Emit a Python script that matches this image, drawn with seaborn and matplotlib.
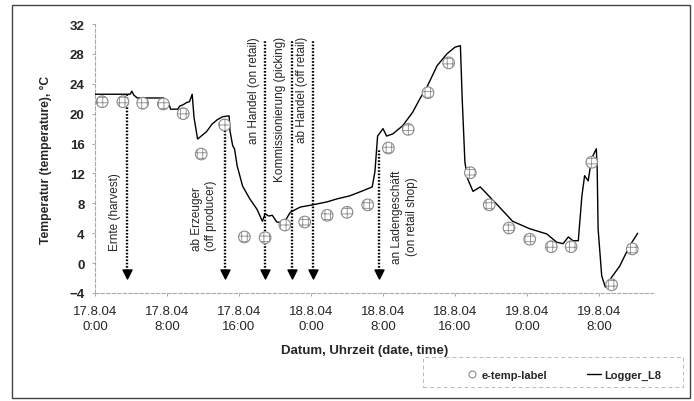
import numpy as np
import pandas as pd
import matplotlib
matplotlib.use('Agg')
import matplotlib.pyplot as plt
import seaborn as sns
from matplotlib.patches import Rectangle
from matplotlib.lines import Line2D

# hours after 17.8.04 0:00, temperature in degC
logger_h = [0.0, 3.9, 4.1, 4.3, 4.7, 7.6, 7.8, 8.2, 8.4, 9.2, 9.4, 9.8, 10.2, 10.5, 10.8,
            11.0, 11.4, 11.8, 12.4, 13.0, 13.6, 14.2, 14.9, 15.0, 15.3, 15.5, 15.8, 16.4,
            17.2, 18.0, 18.6, 18.9, 19.3, 19.7, 20.2, 20.9, 21.3, 21.7, 22.8, 24.2, 25.8,
            26.9, 28.3, 29.8, 30.8, 31.1, 31.4, 32.0, 32.4, 33.1, 34.2, 35.3, 36.1, 36.9,
            38.0, 39.1, 40.0, 40.6, 40.8, 41.1, 41.4, 42.0, 42.8, 44.7, 46.4, 48.3, 50.2,
            51.3, 52.0, 52.6, 53.1, 53.7, 54.1, 54.4, 54.8, 55.0, 55.3, 55.7, 55.8, 55.9,
            56.3, 56.7, 57.4, 58.3, 59.4, 60.3]
logger_t = [22.6, 22.6, 23.0, 22.5, 22.1, 22.1, 21.4, 21.4, 20.6, 20.6, 21.0, 21.2, 21.5, 21.6, 22.6,
            19.5, 16.6, 17.0, 17.6, 18.6, 19.2, 19.6, 19.7, 17.7, 15.7, 15.3, 13.0, 10.3,
            8.6, 7.2, 5.6, 6.6, 6.3, 6.4, 5.5, 5.4, 6.0, 6.8, 7.5, 7.8, 8.2,
            8.6, 9.0, 9.7, 10.2, 12.2, 17.0, 18.0, 17.0, 17.3, 18.4, 20.2, 22.0, 23.6,
            26.4, 28.0, 28.9, 29.1, 22.0, 13.5, 11.3, 9.6, 10.2, 7.8, 5.6, 4.6, 3.9,
            2.8, 2.6, 3.5, 3.0, 3.0, 9.0, 11.7, 11.0, 12.6, 14.3, 15.3, 12.6, 4.6,
            -1.7, -3.2, -1.9, -0.4, 2.3, 4.0]

label_h = [0.8, 3.1, 5.3, 7.6, 9.8, 11.8, 14.4, 16.6, 18.9, 21.1, 23.3, 25.8, 28.0, 30.3,
           32.6, 34.8, 37.0, 39.3, 41.7, 43.8, 46.0, 48.3, 50.7, 52.9, 55.2, 57.4, 59.7]
label_t = [21.6, 21.6, 21.4, 21.3, 20.0, 14.6, 18.5, 3.5, 3.4, 5.1, 5.5, 6.4, 6.8, 7.8,
           15.4, 17.9, 22.8, 26.8, 12.1, 7.8, 4.7, 3.2, 2.2, 2.2, 13.5, -2.9, 1.9]

event_names = ['Ernte (harvest)', 'ab Erzeuger\n(off producer)', 'an Handel (on retail)',
               'Kommissionierung (picking)', 'ab Handel (off retail)',
               'an Ladengeschäft\n(on retail shop)']
event_h = [3.6, 14.4, 18.9, 21.9, 24.2, 31.6]
event_top = [22.6, 18.4, 29.7, 29.7, 29.7, 15.3]

tick_h = [0, 8, 16, 24, 32, 40, 48, 56]
tick_labels = ['17.8.04\n0:00', '17.8.04\n8:00', '17.8.04\n16:00', '18.8.04\n0:00',
               '18.8.04\n8:00', '18.8.04\n16:00', '19.8.04\n0:00', '19.8.04\n8:00']

logger = pd.DataFrame({'h': logger_h, 't': logger_t})
labels = pd.DataFrame({'h': label_h, 't': label_t})

sns.set_style('white')
plt.rcParams['font.family'] = ['Liberation Sans', 'DejaVu Sans']
plt.rcParams['hatch.color'] = '#8a8a8a'
plt.rcParams['hatch.linewidth'] = 0.6

fig = plt.figure(figsize=(6.94, 4.02), dpi=100)
ax = fig.add_axes([95 / 694, 108 / 402, 558 / 694, 269 / 402])

# event arrows
ax.vlines(event_h, -1.1, event_top, colors='black', linestyles=(0, (0.7, 0.7)), lw=1.7, zorder=2)
ax.scatter(event_h, [-1.45] * len(event_h), marker='v', s=42, color='black', zorder=3)

sns.lineplot(data=logger, x='h', y='t', ax=ax, color='black', lw=1.0, sort=False,
             estimator=None, zorder=4)
sns.scatterplot(data=labels, x='h', y='t', ax=ax, s=70, facecolor='white',
                edgecolor='#8a8a8a', linewidth=0.8, hatch='+++', zorder=5)

# event texts
fs = 8.5
ax.text(2.2, 1.8, event_names[0], rotation=90, ha='center', va='bottom', fontsize=fs)
ax.text(12.1, 1.8, event_names[1], rotation=90, ha='center', va='bottom', fontsize=fs,
        multialignment='left', linespacing=1.3)
ax.text(17.7, 30.4, event_names[2], rotation=90, ha='center', va='top', fontsize=fs)
ax.text(20.6, 30.4, event_names[3], rotation=90, ha='center', va='top', fontsize=fs)
ax.text(23.0, 30.4, event_names[4], rotation=90, ha='center', va='top', fontsize=fs)
ax.text(34.4, 6.3, event_names[5], rotation=90, ha='center', va='center', fontsize=fs,
        multialignment='center', linespacing=1.3)

ax.set_xlim(0, 62)
ax.set_ylim(-4, 32)
ax.set_yticks(np.arange(-4, 33, 4))
ax.set_xticks(tick_h)
ax.set_xticklabels(tick_labels, fontsize=9.5, linespacing=1.4)
for lab in ax.get_yticklabels():
    lab.set_fontweight('bold')
    lab.set_fontsize(9.5)
ax.tick_params(axis='y', length=2.5, width=0.6, color='#999999', pad=5, left=True)
ax.tick_params(axis='x', length=2.5, width=0.6, color='#999999', pad=6, bottom=True)

for side in ['top', 'right']:
    ax.spines[side].set_visible(False)
for side in ['left', 'bottom']:
    ax.spines[side].set_color('#aaaaaa')
    ax.spines[side].set_linestyle((0, (3, 2)))
    ax.spines[side].set_linewidth(0.8)

ax.set_xlabel('Datum, Uhrzeit (date, time)', fontsize=9.5, fontweight='bold')
ax.set_ylabel('Temperatur (temperature), °C', fontsize=8.7, fontweight='bold')
ax.xaxis.set_label_coords(0.484, -0.19)
ax.yaxis.set_label_coords(-0.077, 0.5)

# legend without own frame, dashed box drawn separately
handles = [Line2D([], [], marker='o', ls='none', markersize=5, markerfacecolor='white',
                  markeredgecolor='#8a8a8a', markeredgewidth=0.8),
           Line2D([], [], color='black', lw=1.0)]
leg = fig.legend(handles, ['e-temp-label', 'Logger_L8'], ncol=2,
                 bbox_to_anchor=(563 / 694, 26 / 402), loc='center',
                 prop={'size': 8, 'weight': 'bold'}, handlelength=1.2,
                 handletextpad=0.3, columnspacing=3.6, borderaxespad=0, borderpad=0,
                 frameon=False)

fig.patches.append(Rectangle((423 / 694, 14 / 402), 260 / 694, 30 / 402, fill=False,
                             edgecolor='#bbbbbb', lw=0.7, ls=(0, (4, 3)),
                             transform=fig.transFigure))
fig.patches.append(Rectangle((12 / 694, 3 / 402), 678 / 694, 393 / 402, fill=False,
                             edgecolor='#444444', lw=1.0, transform=fig.transFigure))

fig.savefig('out.png', dpi=100)
